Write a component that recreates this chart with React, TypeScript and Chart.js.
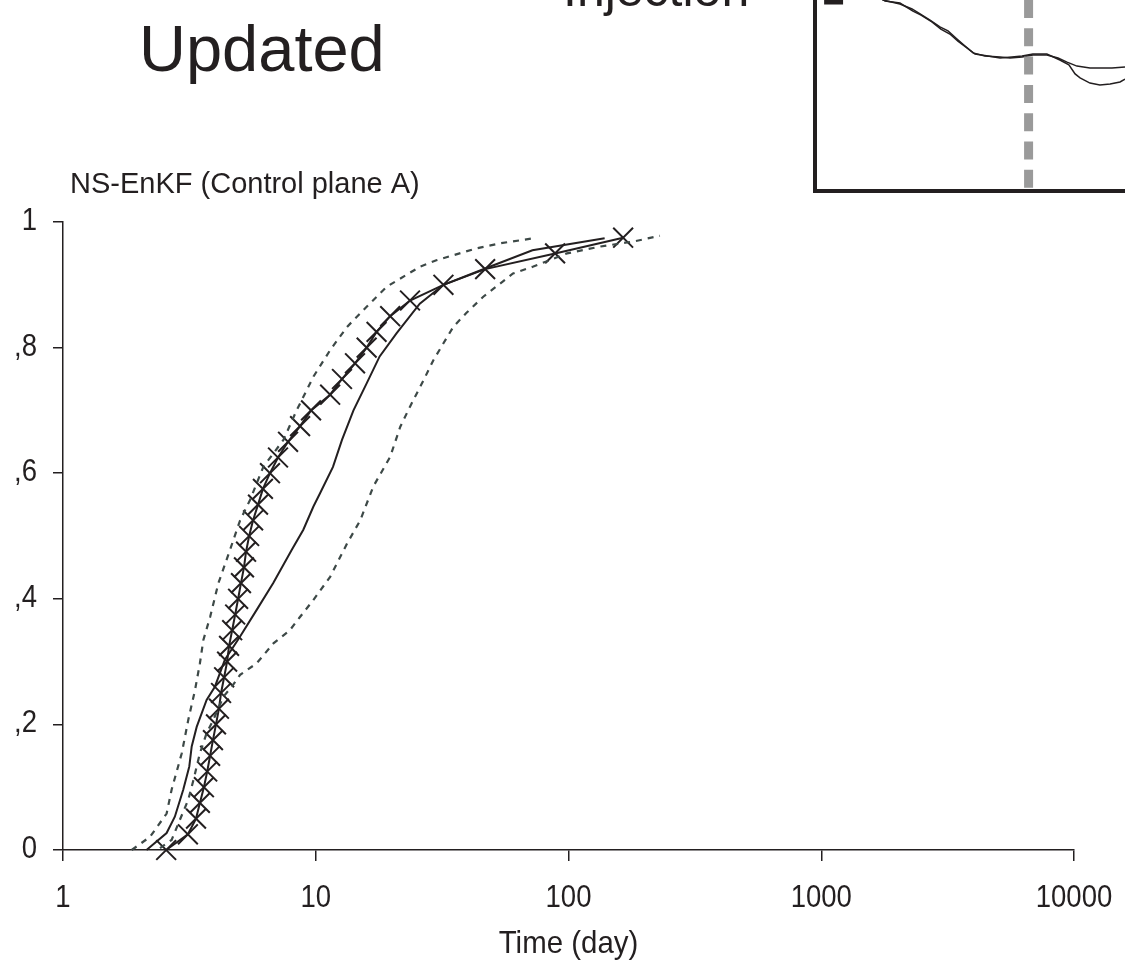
import React, { useEffect, useRef } from "react";
import { Chart, registerables } from "chart.js";

Chart.register(...registerables);

// ---------- Main chart data ----------
const xTickValues = [1, 10, 100, 1000, 10000];
const xTickLabels = ["1", "10", "100", "1000", "10000"];
const yTickValues = [0, 0.2, 0.4, 0.6, 0.8, 1];
const yTickLabels = ["0", ",2", ",4", ",6", ",8", "1"];
const xAxisTitle = "Time (day)";
const chartTitle = "NS-EnKF (Control plane A)";

// solid line with X markers
const markerTime = [2.56, 3.12, 3.36, 3.48, 3.61, 3.72, 3.82, 3.92, 4.03, 4.14, 4.22, 4.34, 4.46, 4.54, 4.67, 4.8, 4.93, 5.06, 5.2, 5.3, 5.45, 5.65, 5.91, 6.18, 6.59, 7.09, 7.77, 8.67, 9.58, 11.4, 12.7, 14.3, 15.9, 17.4, 19.7, 23.6, 32, 46.8, 88.5, 164.5];
const markerFrac = [0, 0.025, 0.05, 0.075, 0.1, 0.125, 0.15, 0.175, 0.2, 0.225, 0.25, 0.275, 0.3, 0.325, 0.35, 0.375, 0.4, 0.425, 0.45, 0.475, 0.5, 0.525, 0.55, 0.575, 0.6, 0.625, 0.65, 0.675, 0.7, 0.725, 0.75, 0.775, 0.8, 0.825, 0.85, 0.875, 0.9, 0.925, 0.95, 0.975];

// plain solid line
const solidTime = [2.14, 2.57, 2.77, 2.99, 3.16, 3.23, 3.38, 3.7, 3.99, 4.37, 5.02, 5.83, 6.79, 8.04, 8.93, 9.79, 10.4, 11.7, 12.7, 14.1, 15.9, 17.9, 20.9, 25.8, 32, 46.8, 72, 139];
const solidFrac = [0, 0.027, 0.053, 0.096, 0.133, 0.165, 0.196, 0.239, 0.26, 0.303, 0.34, 0.382, 0.425, 0.478, 0.51, 0.547, 0.568, 0.61, 0.653, 0.7, 0.743, 0.786, 0.823, 0.87, 0.9, 0.926, 0.955, 0.974];

// upper (left) dashed envelope
const upperTime = [1.87, 2.21, 2.57, 2.69, 2.95, 3.13, 3.33, 3.48, 3.59, 3.82, 4.12, 4.58, 5.02, 5.49, 6.2, 7.45, 8.4, 9.8, 11.4, 13.3, 15.9, 19.1, 25.9, 30.0, 43.2, 53.6, 72.6];
const upperFrac = [0, 0.021, 0.058, 0.096, 0.154, 0.207, 0.255, 0.297, 0.334, 0.371, 0.425, 0.478, 0.525, 0.557, 0.61, 0.653, 0.7, 0.754, 0.796, 0.833, 0.865, 0.897, 0.929, 0.939, 0.958, 0.966, 0.974];

// lower (right) dashed envelope
const lowerTime = [2.42, 2.69, 2.9, 3.13, 3.28, 3.48, 3.7, 3.93, 4.31, 4.65, 5.02, 5.83, 6.8, 7.9, 8.66, 9.78, 11.4, 13.3, 15.0, 16.9, 19.7, 21.6, 23.6, 26.7, 29.2, 35.0, 39.4, 46.0, 60.3, 72.6, 98.6, 134, 181, 230];
const lowerFrac = [0.003, 0.016, 0.048, 0.08, 0.111, 0.154, 0.186, 0.207, 0.244, 0.26, 0.279, 0.297, 0.329, 0.35, 0.371, 0.398, 0.435, 0.488, 0.525, 0.579, 0.626, 0.674, 0.706, 0.748, 0.78, 0.833, 0.855, 0.881, 0.918, 0.929, 0.95, 0.961, 0.969, 0.978];

// ---------- Inset data (relative units 0-100) ----------
const insetPosA = [20.3, 21.9, 27.4, 31.3, 33.9, 37.1, 40.3, 42.9, 45.8, 48.4, 51.0, 54.8, 59.7, 62.9, 66.8, 70.3, 74.8, 78.4, 81.3, 84.5, 88.7, 91.9, 95.8, 100];
const insetValA = [102.6, 100, 97.9, 95.3, 92.7, 89.5, 85.9, 83.8, 79.6, 75.9, 72.3, 70.7, 70.2, 69.6, 70.2, 71.2, 71.2, 69.6, 67.5, 65.4, 64.4, 64.4, 64.4, 64.9];
const insetPosB = [20.3, 22.6, 27.4, 31.6, 34.2, 37.7, 40.6, 43.5, 46.1, 49.0, 51.6, 55.8, 59.7, 63.5, 66.8, 70.3, 74.8, 79.0, 81.9, 83.9, 85.5, 88.7, 91.9, 95.2, 98.4, 100];
const insetValB = [102.1, 99.5, 98.4, 94.2, 92.1, 88.5, 84.8, 82.2, 78.5, 74.9, 71.7, 70.7, 69.6, 70.2, 70.7, 71.7, 71.7, 68.6, 66.0, 61.3, 59.2, 56.5, 55.5, 56.0, 57.1, 58.6];
const injectionPos = [68.9, 68.9];
const injectionVal = [100, 0];
const markPos = [6.0];
const markVal = [102.6];

const INK = "#231f20";
const DASH = "#3d4947";
const SANS = '"Liberation Sans", Arial, sans-serif';

const zip = (xs: number[], ys: number[]) => xs.map((x, i) => ({ x, y: ys[i] }));

function drawNarrow(ctx: CanvasRenderingContext2D, text: string, x: number, y: number, align: CanvasTextAlign, k: number) {
  ctx.save();
  ctx.translate(x, y);
  ctx.scale(k, 1);
  ctx.textAlign = align;
  ctx.fillText(text, 0, 0);
  ctx.restore();
}

const textPlugin = {
  id: "figureTexts",
  afterDraw(chart: any) {
    const ctx: CanvasRenderingContext2D = chart.ctx;
    const { chartArea, scales } = chart;
    ctx.save();
    ctx.fillStyle = INK;
    ctx.textAlign = "left";
    ctx.textBaseline = "alphabetic";
    ctx.font = `65px ${SANS}`;
    ctx.fillText("Updated", 139, 71);
    ctx.font = `50px ${SANS}`;
    ctx.fillText("Injection", 563, 6);
    ctx.font = `29px ${SANS}`;
    ctx.fillText(chartTitle, 70, 193);

    // tick labels (narrow face, drawn at the library's tick positions)
    ctx.font = `32px ${SANS}`;
    scales.x.ticks.forEach((t: any, i: number) => {
      drawNarrow(ctx, xTickLabels[i], scales.x.getPixelForValue(t.value), chartArea.bottom + 57, "center", 0.86);
    });
    scales.y.ticks.forEach((t: any, i: number) => {
      drawNarrow(ctx, yTickLabels[i], chartArea.left - 26, scales.y.getPixelForValue(t.value) + 8, "right", 0.86);
    });
    drawNarrow(ctx, xAxisTitle, (chartArea.left + chartArea.right) / 2, chartArea.bottom + 103, "center", 0.92);
    ctx.restore();
  },
};

function MainChart() {
  const ref = useRef<HTMLCanvasElement | null>(null);
  useEffect(() => {
    if (!ref.current) return;
    const chart = new Chart(ref.current, {
      type: "line",
      data: {
        datasets: [
          {
            label: "upper",
            data: zip(upperTime, upperFrac),
            borderColor: DASH,
            borderWidth: 2.2,
            borderDash: [6, 6],
            pointRadius: 0,
            tension: 0,
            clip: false as any,
          },
          {
            label: "lower",
            data: zip(lowerTime, lowerFrac),
            borderColor: DASH,
            borderWidth: 2.2,
            borderDash: [6, 6],
            pointRadius: 0,
            tension: 0,
            clip: false as any,
          },
          {
            label: "solid",
            data: zip(solidTime, solidFrac),
            borderColor: INK,
            borderWidth: 2,
            pointRadius: 0,
            tension: 0,
            clip: false as any,
          },
          {
            label: "marked",
            data: zip(markerTime, markerFrac),
            borderColor: INK,
            borderWidth: 2,
            pointStyle: "crossRot",
            pointRadius: 14,
            pointBorderWidth: 2,
            pointBorderColor: INK,
            tension: 0,
            clip: false as any,
          },
        ],
      },
      options: {
        animation: false,
        responsive: false,
        events: [],
        layout: { autoPadding: false, padding: { left: 0, right: 51, top: 222, bottom: 0 } },
        plugins: { legend: { display: false }, tooltip: { enabled: false }, title: { display: false } },
        scales: {
          x: {
            type: "logarithmic",
            min: 1,
            max: 10000,
            afterBuildTicks: (s: any) => {
              s.ticks = xTickValues.map((v) => ({ value: v }));
            },
            afterFit: (s: any) => {
              s.height = 126;
              s.paddingLeft = 0;
              s.paddingRight = 0;
            },
            ticks: { display: false, autoSkip: false, maxRotation: 0 },
            grid: { display: true, drawOnChartArea: false, drawTicks: true, tickLength: 11, color: INK, lineWidth: 1.5 },
            border: { display: true, color: INK, width: 1.5 },
          },
          y: {
            type: "linear",
            min: 0,
            max: 1,
            afterBuildTicks: (s: any) => {
              s.ticks = yTickValues.map((v) => ({ value: v }));
            },
            afterFit: (s: any) => {
              s.width = 63;
              s.paddingTop = 0;
              s.paddingBottom = 0;
            },
            ticks: { display: false, autoSkip: false },
            grid: { display: true, drawOnChartArea: false, drawTicks: true, tickLength: 10, color: INK, lineWidth: 1.5 },
            border: { display: true, color: INK, width: 1.5 },
          },
        },
      },
      plugins: [textPlugin],
    } as any);
    return () => chart.destroy();
  }, []);
  return <canvas ref={ref} width={1125} height={976} style={{ position: "absolute", left: 0, top: 0 }} />;
}

function InsetChart() {
  const ref = useRef<HTMLCanvasElement | null>(null);
  useEffect(() => {
    if (!ref.current) return;
    const chart = new Chart(ref.current, {
      type: "line",
      data: {
        datasets: [
          {
            label: "injection",
            data: zip(injectionPos, injectionVal),
            borderColor: "#9a9a9a",
            borderWidth: 9,
            borderDash: [18, 10.3],
            borderCapStyle: "butt",
            pointRadius: 0,
            clip: false as any,
          },
          {
            label: "profileA",
            data: zip(insetPosA, insetValA),
            borderColor: INK,
            borderWidth: 1.5,
            pointRadius: 0,
            tension: 0,
            clip: false as any,
          },
          {
            label: "profileB",
            data: zip(insetPosB, insetValB),
            borderColor: INK,
            borderWidth: 1.5,
            pointRadius: 0,
            tension: 0,
            clip: false as any,
          },
          {
            label: "mark",
            data: zip(markPos, markVal),
            showLine: false,
            pointStyle: "rect",
            pointRadius: 13.4,
            pointBackgroundColor: INK,
            pointBorderColor: INK,
            pointBorderWidth: 0,
            clip: false as any,
          },
        ],
      },
      options: {
        animation: false,
        responsive: false,
        events: [],
        layout: { autoPadding: false, padding: 0 },
        plugins: { legend: { display: false }, tooltip: { enabled: false } },
        scales: {
          x: {
            type: "linear",
            min: 0,
            max: 100,
            ticks: { display: false },
            grid: { display: false },
            border: { display: true, color: INK, width: 4 },
            afterFit: (s: any) => {
              s.height = 6;
              s.paddingLeft = 0;
              s.paddingRight = 0;
            },
          },
          y: {
            type: "linear",
            min: 0,
            max: 100,
            ticks: { display: false },
            grid: { display: false },
            border: { display: true, color: INK, width: 4 },
            afterFit: (s: any) => {
              s.width = 6;
              s.paddingTop = 0;
              s.paddingBottom = 0;
            },
          },
        },
      },
    } as any);
    return () => chart.destroy();
  }, []);
  return <canvas ref={ref} width={316} height={197} style={{ position: "absolute", left: 809, top: 0 }} />;
}

export default function App() {
  return (
    <div style={{ position: "absolute", left: 0, top: 0, width: 1125, height: 976, background: "#fff", overflow: "hidden" }}>
      <MainChart />
      <InsetChart />
    </div>
  );
}
